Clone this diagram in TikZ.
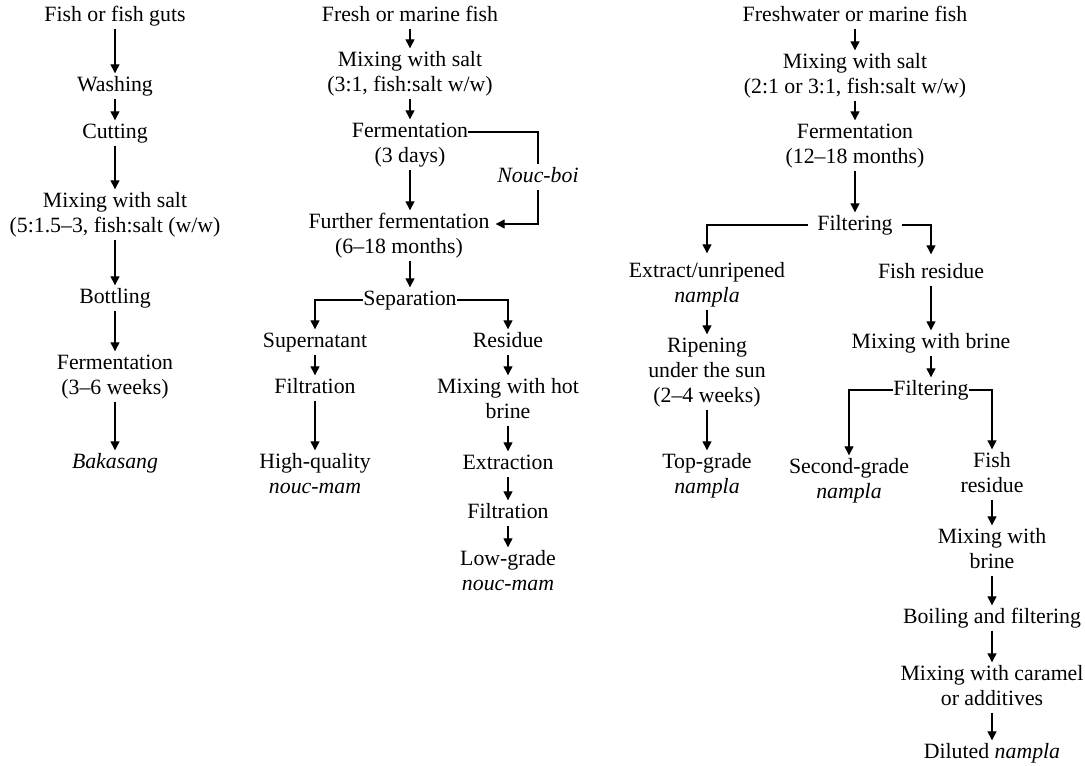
\documentclass[tikz,border=0pt]{standalone}
\usepackage{fontspec}
\setmainfont{Liberation Serif}
\usetikzlibrary{arrows.meta}
% centred stack of lines; the node's baseline is that of the first line
\newcommand{\stk}[1]{\begin{tabular}[t]{@{}c@{}}#1\end{tabular}}
\begin{document}
\begin{tikzpicture}[x=1pt,y=-1pt,
  lbl/.style={anchor=base,inner sep=0pt,font=\fontsize{21.8}{25}\selectfont},
  arr/.style={line width=1.3pt,-{Triangle[width=9pt,length=9pt]}},
  link/.style={line width=1.3pt}]
\useasboundingbox (0,0) rectangle (1085,766);

% ---------- Bakasang ----------
\node[lbl] (c1a) at (115,21)  {\stk{Fish or fish guts}};
\node[lbl] (c1b) at (115,91)  {\stk{Washing}};
\node[lbl] (c1c) at (115,138) {\stk{Cutting}};
\node[lbl] (c1d) at (115,207) {\stk{Mixing with salt\\(5:1.5--3, fish:salt (w/w)}};
\node[lbl] (c1e) at (115,303) {\stk{Bottling}};
\node[lbl] (c1f) at (115,369) {\stk{Fermentation\\(3--6 weeks)}};
\node[lbl] (c1g) at (115,468) {\stk{\textit{Bakasang}}};

\draw[arr] (c1a.south) -- (c1b.north);
\draw[arr] (c1b.south) -- (c1c.north);
\draw[arr] (c1c.south) -- (c1d.north);
\draw[arr] (c1d.south) -- (c1e.north);
\draw[arr] (c1e.south) -- (c1f.north);
\draw[arr] (c1f.south) -- (c1g.north);

% ---------- Nouc-mam ----------
\node[lbl] (c2a) at (410,21)  {\stk{Fresh or marine fish}};
\node[lbl] (c2b) at (410,66)  {\stk{Mixing with salt\\(3:1, fish:salt w/w)}};
\node[lbl] (c2c) at (410,137) {\stk{Fermentation\\(3 days)}};
\node[lbl] (c2d) at (399,228) {\stk{Further fermentation\\(6--18 months)}};
\node[lbl] (c2e) at (410,305) {\stk{Separation}};
\node[lbl] (c2f) at (315,347) {\stk{Supernatant}};
\node[lbl] (c2g) at (315,393) {\stk{Filtration}};
\node[lbl] (c2h) at (315,468) {\stk{High-quality\\\textit{nouc-mam}}};
\node[lbl] (c2i) at (508,347) {\stk{Residue}};
\node[lbl] (c2j) at (508,393) {\stk{Mixing with hot\\brine}};
\node[lbl] (c2k) at (508,469) {\stk{Extraction}};
\node[lbl] (c2l) at (508,518) {\stk{Filtration}};
\node[lbl] (c2m) at (508,565) {\stk{Low-grade\\\textit{nouc-mam}}};
\node[lbl] (nb)  at (538,182) {\stk{\textit{Nouc-boi}}};

\draw[arr] (c2a.south) -- (c2b.north);
\draw[arr] (c2b.south) -- (c2c.north);
\draw[arr] (c2c.south) -- (c2c.south |- c2d.north);
\draw[arr] (c2e.north |- c2d.south) -- (c2e.north);
\draw[arr] (c2e.west) -| (c2f.north);
\draw[arr] (c2e.east) -| (c2i.north);
\draw[arr] (c2f.south) -- (c2g.north);
\draw[arr] (c2g.south) -- (c2h.north);
\draw[arr] (c2i.south) -- (c2j.north);
\draw[arr] (c2j.south) -- (c2k.north);
\draw[arr] (c2k.south) -- (c2l.north);
\draw[arr] (c2l.south) -- (c2m.north);
\draw[link] ([yshift=5pt]c2c.base east) -| (nb.north);
\draw[arr] (nb.south) |- ([shift={(6pt,4pt)}]c2d.base east);

% ---------- Nampla ----------
\node[lbl] (c3a) at (855,21)  {\stk{Freshwater or marine fish}};
\node[lbl] (c3b) at (855,68)  {\stk{Mixing with salt\\(2:1 or 3:1, fish:salt w/w)}};
\node[lbl] (c3c) at (855,138) {\stk{Fermentation\\(12--18 months)}};
\node[lbl,inner xsep=9pt] (c3d) at (855,230) {\stk{Filtering}};
\node[lbl] (c3e) at (707,277) {\stk{Extract/unripened\\\textit{nampla}}};
\node[lbl] (c3f) at (707,352) {\stk{Ripening\\under the sun\\(2--4 weeks)}};
\node[lbl] (c3g) at (707,468) {\stk{Top-grade\\\textit{nampla}}};
\node[lbl] (c3h) at (931,278) {\stk{Fish residue}};
\node[lbl] (c3i) at (931,348) {\stk{Mixing with brine}};
\node[lbl] (c3j) at (931,395) {\stk{Filtering}};
\node[lbl] (c3k) at (849,473) {\stk{Second-grade\\\textit{nampla}}};
\node[lbl] (c3l) at (992,467) {\stk{Fish\\residue}};
\node[lbl] (c3m) at (992,543) {\stk{Mixing with\\brine}};
\node[lbl] (c3n) at (992,623) {\stk{Boiling and filtering}};
\node[lbl] (c3o) at (992,680) {\stk{Mixing with caramel\\or additives}};
\node[lbl] (c3p) at (992,758) {\stk{Diluted \textit{nampla}}};

\draw[arr] (c3a.south) -- (c3b.north);
\draw[arr] (c3b.south) -- (c3c.north);
\draw[arr] (c3c.south) -- (c3d.north);
\draw[arr] (c3d.west) -| ([yshift=6pt]c3e.north);
\draw[arr] (c3d.east) -| ([yshift=6pt]c3h.north);
\draw[arr] (c3e.south) -- (c3f.north);
\draw[arr] (c3f.south) -- (c3g.north);
\draw[arr] (c3h.south) -- (c3i.north);
\draw[arr] (c3i.south) -- (c3j.north);
\draw[arr] (c3j.west) -| (c3k.north);
\draw[arr] (c3j.east) -| (c3l.north);
\draw[arr] (c3l.south) -- (c3m.north);
\draw[arr] (c3m.south) -- (c3n.north);
\draw[arr] (c3n.south) -- (c3o.north);
\draw[arr] (c3o.south) -- (c3p.north);
\end{tikzpicture}
\end{document}
